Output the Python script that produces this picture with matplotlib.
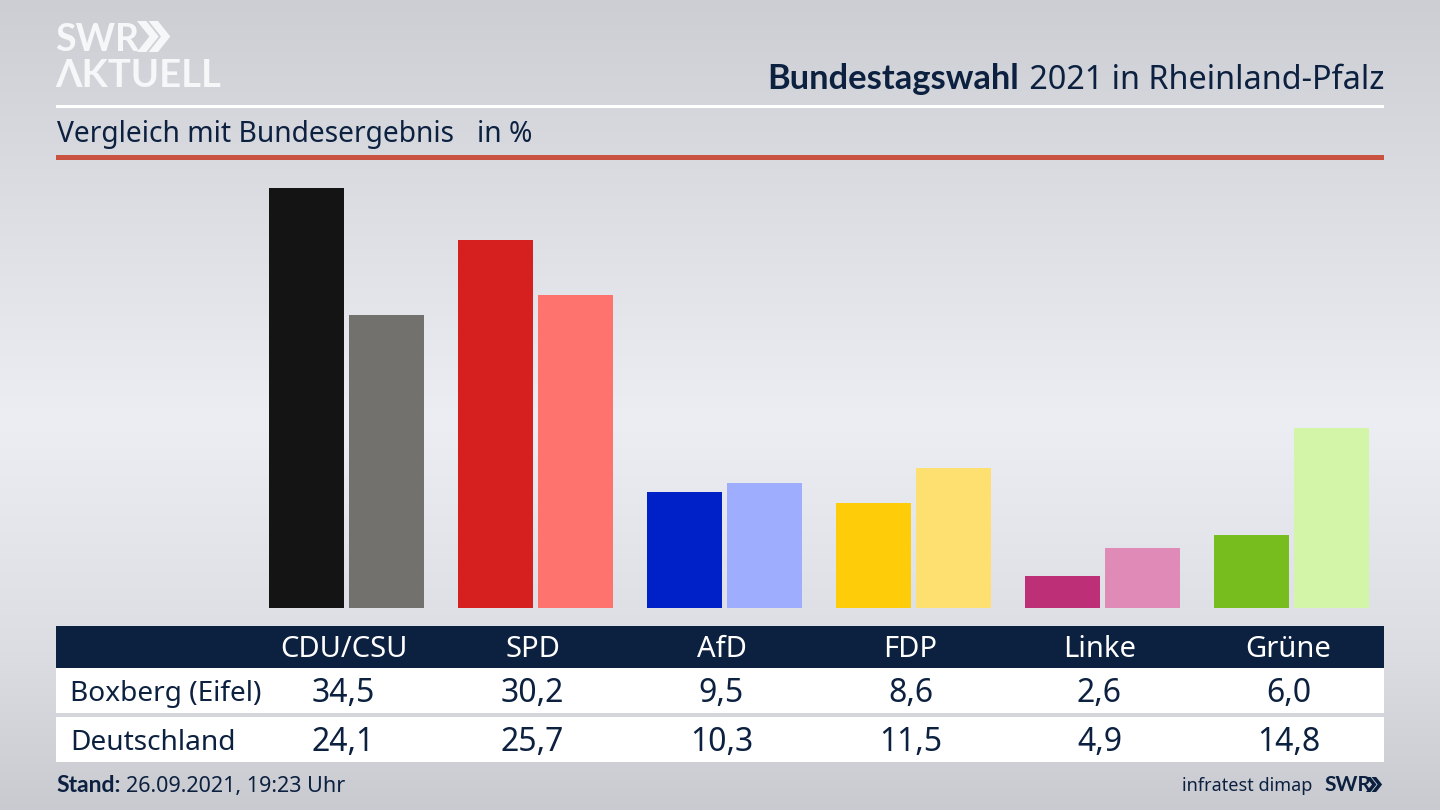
import numpy as np
import matplotlib.pyplot as plt
from matplotlib.patches import Polygon, Rectangle

parties = ['CDU/CSU', 'SPD', 'AfD', 'FDP', 'Linke', 'Grüne']
boxberg = [34.5, 30.2, 9.5, 8.6, 2.6, 6.0]
deutschland = [24.1, 25.7, 10.3, 11.5, 4.9, 14.8]
boxberg_colors = ['#141414', '#d61f1f', '#0020c8', '#ffcc0a', '#bd3078', '#78bd1e']
deutschland_colors = ['#73716e', '#ff736e', '#9fadff', '#fee070', '#e08ab8', '#d3f5a8']
row_names = ['Boxberg (Eifel)', 'Deutschland']

NAVY = '#0c2040'
W, H = 1440, 810
FONT = 'Noto Sans'
BOLD = 'Lato'


def chevrons(ax, x, y, h, color):
    # two arrows of the SWR logo, pixel coordinates
    w = h * 0.40
    t = h * 0.30
    for dx in (0, t * 1.25):
        pts = [(x + dx, y), (x + dx + t, y), (x + dx + t + w, y + h / 2),
               (x + dx + t, y + h), (x + dx, y + h), (x + dx + w, y + h / 2)]
        ax.add_patch(Polygon(pts, closed=True, color=color, lw=0))


def main():
    fig = plt.figure(figsize=(W / 100, H / 100), dpi=100)

    # background gradient
    bg = fig.add_axes([0, 0, 1, 1], zorder=0)
    bg.axis('off')
    stops_y = [0, 150, 420, 650, 810]
    stops_v = [0.800, 0.845, 0.925, 0.860, 0.785]
    grad = np.interp(np.arange(H), stops_y, stops_v)
    rgb = np.stack([grad, grad + 0.008, grad + 0.028], axis=1)[:, None, :]
    bg.imshow(rgb.clip(0, 1), aspect='auto', extent=[0, W, H, 0])

    # pixel overlay for header, table and logos
    ov = fig.add_axes([0, 0, 1, 1], zorder=1)
    ov.set_xlim(0, W)
    ov.set_ylim(H, 0)
    ov.axis('off')

    ov.add_patch(Rectangle((56, 105), 1328, 2.5, color='white', lw=0))
    ov.add_patch(Rectangle((56, 155), 1328, 5, color='#c9513f', lw=0))
    ov.add_patch(Rectangle((56, 626), 1328, 42, color=NAVY, lw=0))
    ov.add_patch(Rectangle((56, 668), 1328, 44.5, color='white', lw=0))
    ov.add_patch(Rectangle((56, 717), 1328, 45, color='white', lw=0))

    # logo
    ov.text(55, 51, 'SWR', fontsize=27, fontweight='bold', color='#f6f7f8',
            family=BOLD, va='baseline', ha='left')
    chevrons(ov, 137, 21, 31, '#f6f7f8')
    ov.text(55, 87, 'ΛKTUELL', fontsize=27.5, fontweight='bold', color='#f6f7f8',
            family=BOLD, va='baseline', ha='left')

    # title, right aligned, two weights
    t2 = ov.text(1384, 89, ' 2021 in Rheinland-Pfalz', fontsize=23.3, color=NAVY,
                 family=FONT, va='baseline', ha='right')
    fig.canvas.draw()
    x0 = t2.get_window_extent().x0
    ov.text(x0 - 2, 89, 'Bundestagswahl', fontsize=24.8, fontweight='bold', color=NAVY,
            family=BOLD, va='baseline', ha='right')

    ov.text(57, 142, 'Vergleich mit Bundesergebnis', fontsize=20.3, color=NAVY,
            family=FONT, va='baseline', ha='left')
    ov.text(477, 142, 'in %', fontsize=20.3, color=NAVY, family=FONT, va='baseline', ha='left')

    # bars
    ax = fig.add_axes([252 / W, 1 - 608 / H, 1134 / W, 420 / H], zorder=2)
    ax.set_xlim(-0.5, 5.5)
    ax.set_ylim(0, 34.5)
    ax.axis('off')
    xs = np.arange(len(parties))
    ax.bar(xs - 0.212, boxberg, width=0.395, color=boxberg_colors)
    ax.bar(xs + 0.212, deutschland, width=0.395, color=deutschland_colors)

    # table text, column centres come from the bar axes
    for i, name in enumerate(parties):
        px = ax.transData.transform((i, 0))[0]
        ov.text(px - 3, 657, name, fontsize=21, color='white', family=FONT, va='baseline', ha='center')
        ov.text(px - 3, 702, f'{boxberg[i]:.1f}'.replace('.', ','), fontsize=23, color=NAVY,
                family=FONT, va='baseline', ha='center')
        ov.text(px - 3, 751, f'{deutschland[i]:.1f}'.replace('.', ','), fontsize=23, color=NAVY,
                family=FONT, va='baseline', ha='center')
    ov.text(70, 701, row_names[0], fontsize=20.2, color=NAVY, family=FONT, va='baseline', ha='left')
    ov.text(70, 750, row_names[1], fontsize=20.2, color=NAVY, family=FONT, va='baseline', ha='left')

    # footer
    ov.text(56, 792, 'Stand:', fontsize=16.5, fontweight='bold', color=NAVY, family=BOLD,
            va='baseline', ha='left')
    ov.text(126, 792, '26.09.2021, 19:23 Uhr', fontsize=15.5, color=NAVY, family=FONT,
            va='baseline', ha='left')
    ov.text(1312, 791, 'infratest dimap', fontsize=13, color=NAVY, family=FONT,
            va='baseline', ha='right')
    ov.text(1324, 791, 'SWR', fontsize=15, fontweight='bold', color=NAVY, family=BOLD,
            va='baseline', ha='left')
    chevrons(ov, 1366, 777, 15, NAVY)

    fig.savefig('out.png', dpi=100)


if __name__ == '__main__':
    main()
